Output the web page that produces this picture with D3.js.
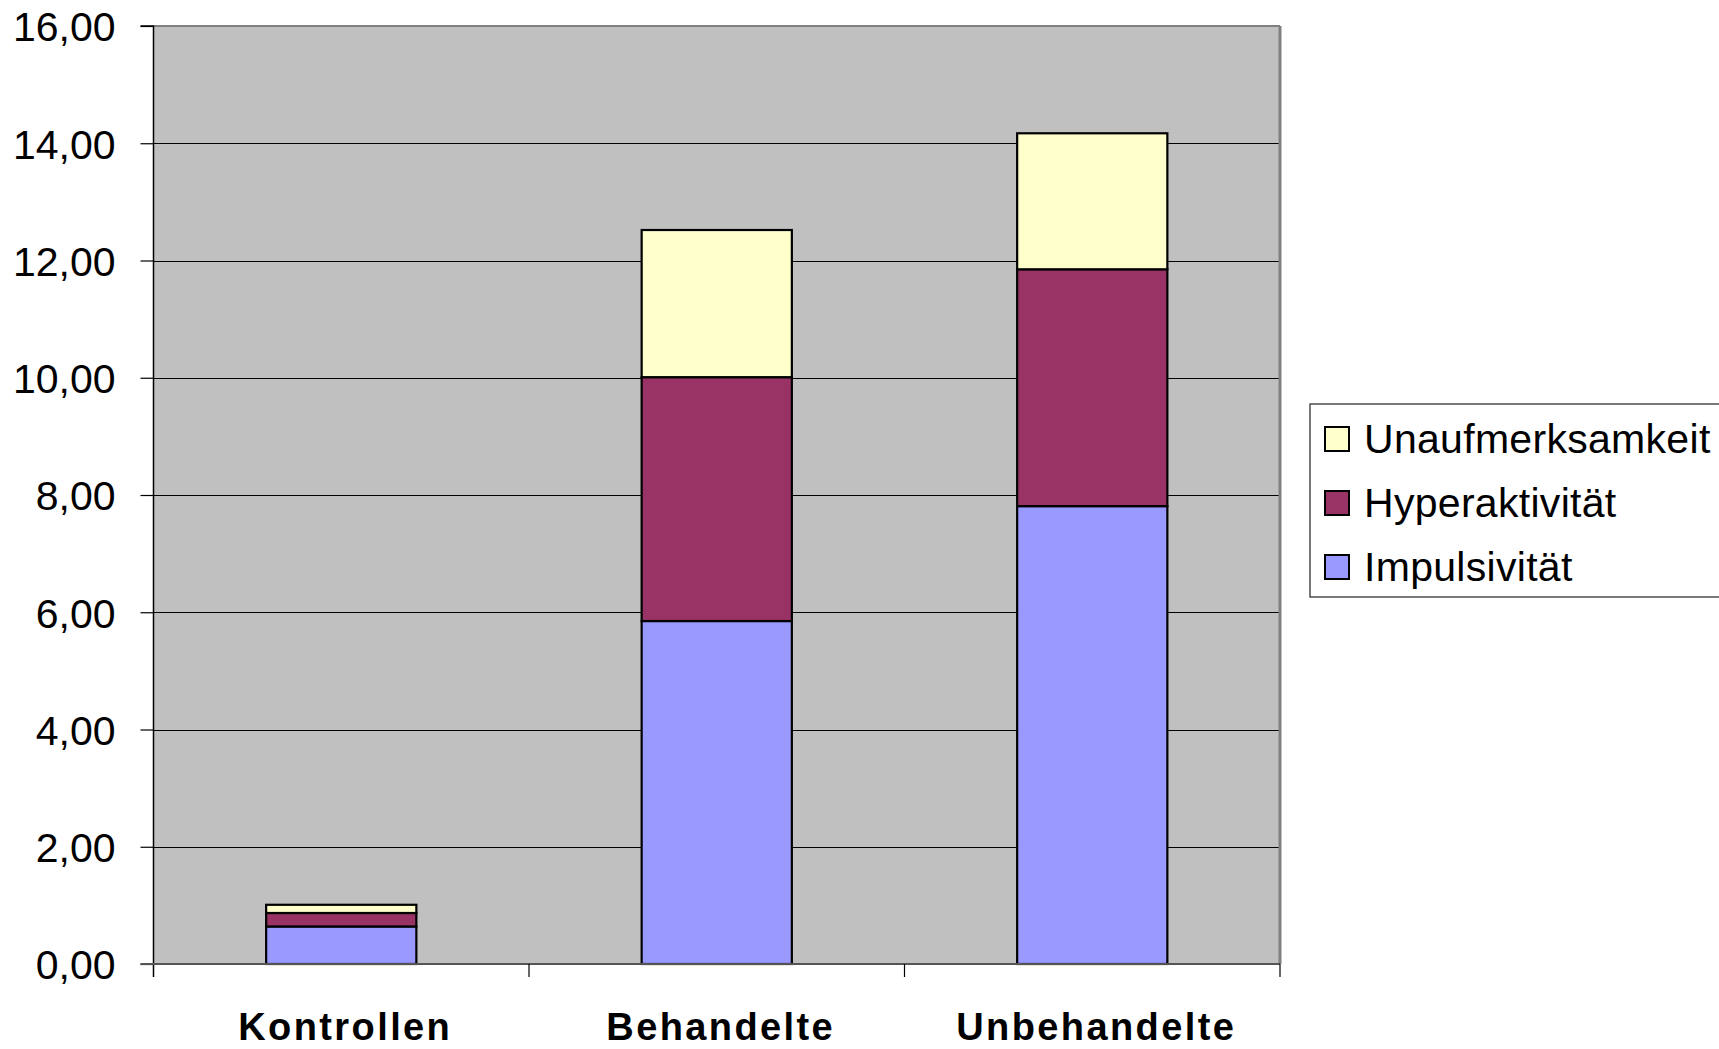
<!DOCTYPE html>
<html>
<head>
<meta charset="utf-8">
<script src="https://cdn.jsdelivr.net/npm/d3@7"></script>
<style>
  html, body { margin: 0; padding: 0; background: #fff; overflow: hidden; }
  text { font-family: "Liberation Sans", Arial, sans-serif; }
</style>
</head>
<body>
<svg id="chart" width="1719" height="1049"></svg>
<script>
const categories = ["Kontrollen", "Behandelte", "Unbehandelte"];
const seriesNames = ["Impulsivität", "Hyperaktivität", "Unaufmerksamkeit"];
const impulsivitaet = [0.64, 5.85, 7.81];
const hyperaktivitaet = [0.23, 4.16, 4.04];
const unaufmerksamkeit = [0.14, 2.51, 2.32];
const yTicks = [0, 2, 4, 6, 8, 10, 12, 14, 16];
const colors = ["#9999FF", "#993366", "#FFFFCC"];

const svg = d3.select("#chart");
const pLeft = 153.5, pRight = 1280, pTop = 26, pBottom = 964;

const x = d3.scaleBand().domain(categories).range([pLeft, pRight]).paddingInner(0.6).paddingOuter(0.3);
const y = d3.scaleLinear().domain([0, 16]).range([pBottom, pTop]);

// plot background
svg.append("rect").attr("x", pLeft).attr("y", pTop).attr("width", pRight - pLeft).attr("height", pBottom - pTop).attr("fill", "#C0C0C0");

// gridlines
svg.append("g").selectAll("line").data(yTicks.filter(d => d > 0 && d < 16)).join("line")
  .attr("x1", pLeft).attr("x2", pRight)
  .attr("y1", d => Math.round(y(d)) + 0.5).attr("y2", d => Math.round(y(d)) + 0.5)
  .attr("stroke", "#000").attr("stroke-width", 1.2);

// top and right border
svg.append("line").attr("x1", pLeft).attr("x2", pRight).attr("y1", pTop).attr("y2", pTop).attr("stroke", "#808080").attr("stroke-width", 2);
svg.append("line").attr("x1", pRight).attr("x2", pRight).attr("y1", pTop).attr("y2", pBottom).attr("stroke", "#808080").attr("stroke-width", 3);

// stacked data
const table = categories.map((c, i) => ({ cat: c, "Impulsivität": impulsivitaet[i], "Hyperaktivität": hyperaktivitaet[i], "Unaufmerksamkeit": unaufmerksamkeit[i] }));
const stack = d3.stack().keys(seriesNames)(table);

svg.append("g").selectAll("g").data(stack).join("g")
  .attr("fill", (d, i) => colors[i])
  .selectAll("rect").data(d => d).join("rect")
  .attr("x", d => x(d.data.cat))
  .attr("width", x.bandwidth())
  .attr("y", d => y(d[1]))
  .attr("height", d => y(d[0]) - y(d[1]))
  .attr("stroke", "#000").attr("stroke-width", 2.2);

// y axis
const yAxis = d3.axisLeft(y).tickValues(yTicks).tickSize(13).tickPadding(25)
  .tickFormat(d => d3.format(".2f")(d).replace(".", ","));
const gy = svg.append("g").attr("transform", `translate(${pLeft},0)`).call(yAxis);
gy.select(".domain").attr("stroke", "#000").attr("stroke-width", 1.5).attr("d", `M-13,${pTop}H0V${pBottom + 13}`);
gy.selectAll(".tick line").attr("stroke", "#000").attr("stroke-width", 1.2);
gy.selectAll(".tick text").attr("font-size", 41).attr("fill", "#000").attr("dy", "0.36em")
  .style("font-family", '"Liberation Sans", Arial, sans-serif');

// x axis
svg.append("line").attr("x1", pLeft - 13).attr("x2", pRight).attr("y1", pBottom).attr("y2", pBottom).attr("stroke", "#555").attr("stroke-width", 2);
const step = x.step();
const boundaries = categories.map(c => x(c) - step * 0.3).concat([pRight]);
svg.append("g").selectAll("line").data(boundaries.slice(1)).join("line")
  .attr("x1", d => d).attr("x2", d => d).attr("y1", pBottom).attr("y2", pBottom + 13)
  .attr("stroke", "#000").attr("stroke-width", 1.2);
svg.append("g").selectAll("text").data(categories).join("text")
  .attr("x", d => x(d) + x.bandwidth() / 2 + 4).attr("y", 1040)
  .attr("text-anchor", "middle").attr("font-size", 38).attr("font-weight", "bold").attr("fill", "#000")
  .attr("letter-spacing", 2.4)
  .text(d => d);

// legend
const legend = svg.append("g");
legend.append("rect").attr("x", 1310).attr("y", 404).attr("width", 500).attr("height", 193)
  .attr("fill", "#fff").attr("stroke", "#333").attr("stroke-width", 1.3);
const legendItems = seriesNames.slice().reverse();
const legendColors = colors.slice().reverse();
legendItems.forEach((name, i) => {
  const yy = 427 + i * 64;
  legend.append("rect").attr("x", 1325).attr("y", yy).attr("width", 24).attr("height", 24)
    .attr("fill", legendColors[i]).attr("stroke", "#000").attr("stroke-width", 2);
  legend.append("text").attr("x", 1364).attr("y", yy + 26).attr("font-size", 41).attr("fill", "#000")
    .attr("letter-spacing", 0.3).text(name);
});
</script>
</body>
</html>
